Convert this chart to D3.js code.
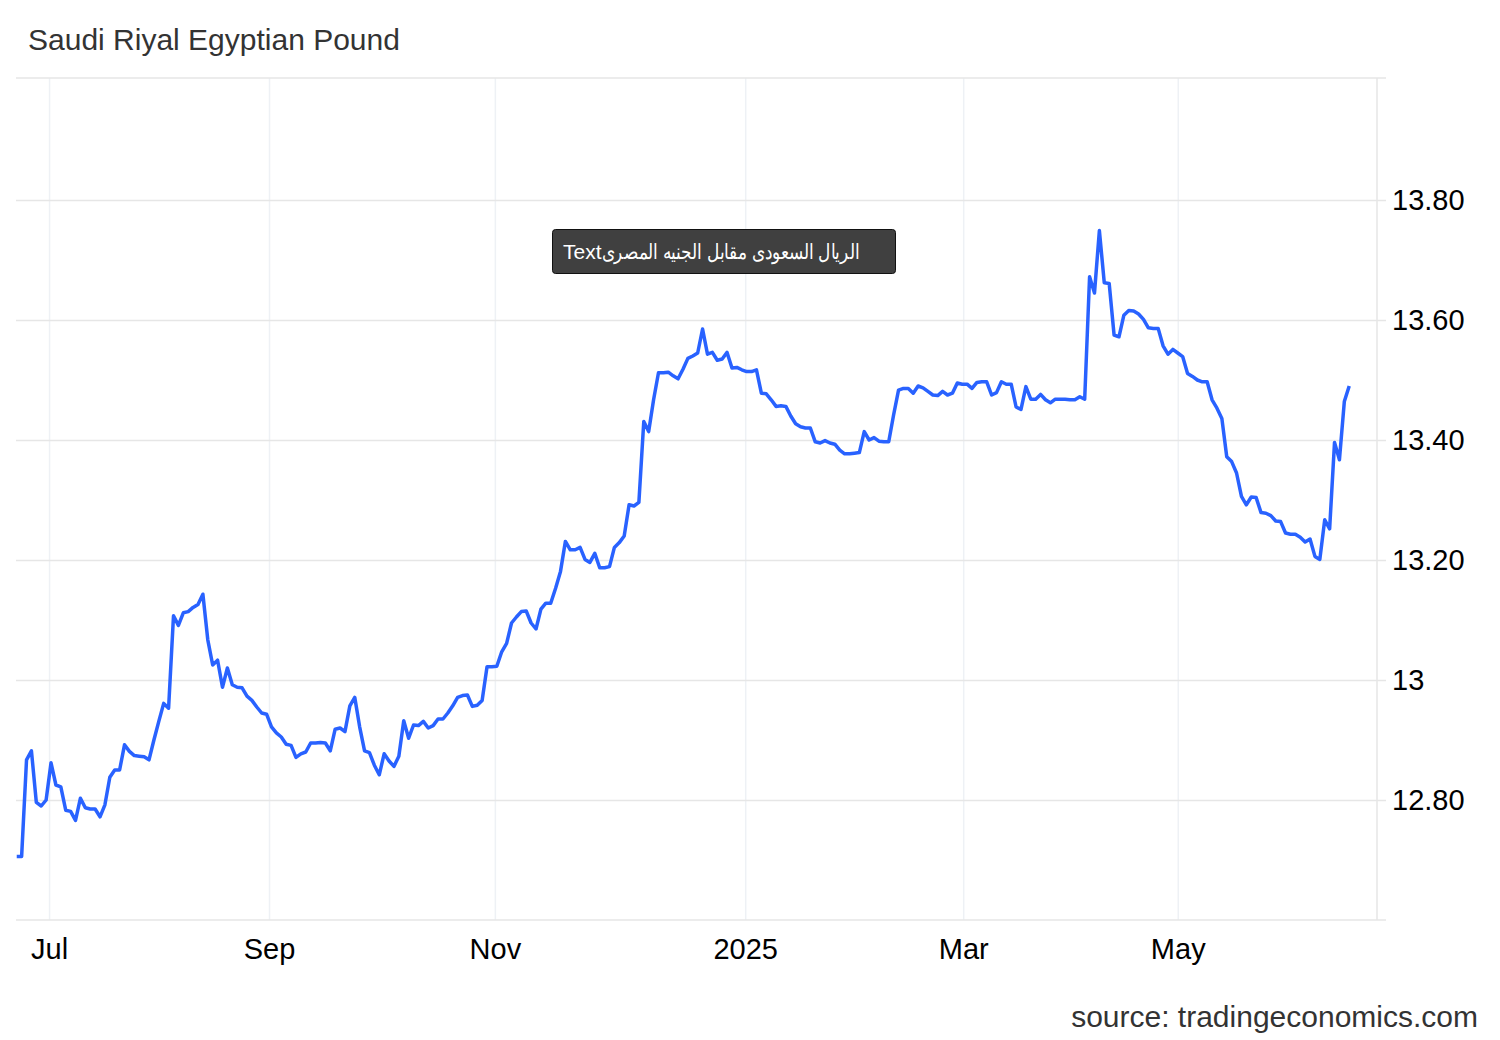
<!DOCTYPE html>
<html>
<head>
<meta charset="utf-8">
<script src="https://cdn.jsdelivr.net/npm/d3@7"></script>
<style>
  body { margin: 0; background: #fff; }
  svg { display: block; font-family: "Liberation Sans", Arial, Helvetica, sans-serif; }
</style>
</head>
<body>
<script>
// daily SAR/EGP closes (one value per trading day)
const values = [
  12.706, 12.706, 12.867, 12.882, 12.796, 12.790, 12.800, 12.862, 12.825, 12.822,
  12.783, 12.781, 12.766, 12.803, 12.787, 12.785, 12.785, 12.772, 12.792, 12.838,
  12.850, 12.850, 12.892, 12.881, 12.874, 12.873, 12.872, 12.867, 12.900, 12.931,
  12.961, 12.953, 13.107, 13.091, 13.112, 13.114, 13.121, 13.126, 13.143, 13.067,
  13.025, 13.033, 12.988, 13.020, 12.992, 12.988, 12.987, 12.973, 12.966, 12.955,
  12.945, 12.943, 12.922, 12.912, 12.905, 12.893, 12.891, 12.871, 12.877, 12.880,
  12.895, 12.895, 12.896, 12.895, 12.882, 12.918, 12.920, 12.914, 12.957, 12.971,
  12.922, 12.882, 12.879, 12.858, 12.842, 12.877, 12.865, 12.856, 12.873, 12.932,
  12.903, 12.925, 12.924, 12.931, 12.920, 12.924, 12.935, 12.935, 12.945, 12.957,
  12.971, 12.974, 12.975, 12.956, 12.958, 12.966, 13.022, 13.022, 13.023, 13.047,
  13.061, 13.095, 13.105, 13.114, 13.115, 13.095, 13.085, 13.118, 13.128, 13.128,
  13.153, 13.181, 13.231, 13.217, 13.217, 13.221, 13.201, 13.196, 13.211, 13.187,
  13.187, 13.189, 13.221, 13.229, 13.240, 13.292, 13.290, 13.296, 13.431, 13.414,
  13.467, 13.512, 13.512, 13.513, 13.507, 13.502, 13.518, 13.536, 13.540, 13.545,
  13.585, 13.543, 13.546, 13.533, 13.535, 13.546, 13.520, 13.521, 13.517, 13.514,
  13.514, 13.517, 13.478, 13.477, 13.467, 13.456, 13.457, 13.456, 13.440, 13.427,
  13.422, 13.420, 13.420, 13.397, 13.395, 13.399, 13.395, 13.393, 13.383, 13.377,
  13.377, 13.378, 13.379, 13.414, 13.400, 13.404, 13.398, 13.397, 13.397, 13.442,
  13.483, 13.486, 13.486, 13.478, 13.490, 13.487, 13.481, 13.475, 13.474, 13.481,
  13.475, 13.478, 13.495, 13.493, 13.493, 13.486, 13.496, 13.497, 13.497, 13.475,
  13.479, 13.497, 13.493, 13.493, 13.455, 13.451, 13.489, 13.468, 13.468, 13.476,
  13.467, 13.462, 13.468, 13.468, 13.468, 13.467, 13.467, 13.472, 13.468, 13.672,
  13.645, 13.749, 13.662, 13.661, 13.575, 13.572, 13.608, 13.616, 13.615, 13.610,
  13.601, 13.587, 13.586, 13.586, 13.557, 13.543, 13.551, 13.545, 13.539, 13.511,
  13.506, 13.500, 13.497, 13.497, 13.467, 13.453, 13.436, 13.372, 13.364, 13.345,
  13.306, 13.292, 13.305, 13.304, 13.279, 13.278, 13.274, 13.265, 13.264, 13.245,
  13.243, 13.243, 13.238, 13.230, 13.235, 13.206, 13.201, 13.267, 13.252, 13.396,
  13.367, 13.464, 13.490
];

// month labels sit at these positions along the trading-day index
const xTickAt = [6.6, 51.5, 97.6, 148.7, 193.2, 237.0];
const xTickLabels = ["Jul", "Sep", "Nov", "2025", "Mar", "May"];

const yTicks = [12.8, 13.0, 13.2, 13.4, 13.6, 13.8];
const yTickLabels = ["12.80", "13", "13.20", "13.40", "13.60", "13.80"];

const title = "Saudi Riyal Egyptian Pound";
const source = "source: tradingeconomics.com";
const tipLatin = "Text";
const tipArabic = "الريال السعودى مقابل الجنيه المصرى";

const W = 1500, H = 1040;
const plotL = 16, plotR = 1377, plotT = 78, plotB = 920;

const svg = d3.select("body").append("svg").attr("width", W).attr("height", H);

const x = d3.scaleLinear().domain([-0.15, 277.67]).range([plotL, plotR]);
const y = d3.scaleLinear().domain([12.6, 14.0]).range([plotB, 80]);

// vertical grid
svg.append("g")
  .attr("transform", `translate(0,${plotB})`)
  .call(d3.axisBottom(x).tickValues(xTickAt).tickSize(-(plotB - plotT)).tickFormat(""))
  .call(g => g.select(".domain").remove())
  .call(g => g.selectAll("line").attr("stroke", "#eef1f5").attr("stroke-width", 1.5));

// horizontal grid (runs a little past the axis as tick marks)
svg.append("g")
  .attr("transform", `translate(${plotL},0)`)
  .call(d3.axisRight(y).tickValues(yTicks).tickSize(1370).tickFormat(""))
  .call(g => g.select(".domain").remove())
  .call(g => g.selectAll("line").attr("stroke", "#e6e6e6").attr("stroke-width", 1.5));

// frame: top, bottom, right
svg.append("line").attr("x1", plotL).attr("x2", 1386).attr("y1", plotT).attr("y2", plotT)
  .attr("stroke", "#e6e6e6").attr("stroke-width", 1.5);
svg.append("line").attr("x1", plotL).attr("x2", 1386).attr("y1", plotB).attr("y2", plotB)
  .attr("stroke", "#e6e6e6").attr("stroke-width", 1.5);
svg.append("line").attr("x1", plotR).attr("x2", plotR).attr("y1", plotT).attr("y2", plotB)
  .attr("stroke", "#e6e6e6").attr("stroke-width", 1.5);

// axis labels
svg.append("g")
  .attr("transform", `translate(0,${plotB})`)
  .call(d3.axisBottom(x).tickValues(xTickAt).tickSize(0).tickPadding(18)
    .tickFormat((d, i) => xTickLabels[i]))
  .call(g => g.select(".domain").remove())
  .call(g => g.selectAll("text").attr("fill", "#000")
    .style("font-size", "29px").style("font-family", "'Liberation Sans', Arial, sans-serif"));

svg.append("g")
  .attr("transform", `translate(${plotR},0)`)
  .call(d3.axisRight(y).tickValues(yTicks).tickSize(0).tickPadding(15)
    .tickFormat((d, i) => yTickLabels[i]))
  .call(g => g.select(".domain").remove())
  .call(g => g.selectAll("text").attr("fill", "#000")
    .style("font-size", "29px").style("font-family", "'Liberation Sans', Arial, sans-serif"));

// the series
const line = d3.line().x((d, i) => x(i)).y(d => y(d));
svg.append("path")
  .datum(values)
  .attr("fill", "none")
  .attr("stroke", "#2962ff")
  .attr("stroke-width", 3.5)
  .attr("stroke-linejoin", "round")
  .attr("d", line);

// title + source
svg.append("text").attr("x", 28).attr("y", 50).text(title)
  .attr("fill", "#333").style("font-size", "30px");
svg.append("text").attr("x", 1478).attr("y", 1027).attr("text-anchor", "end").text(source)
  .attr("fill", "#333").style("font-size", "30px");

// tooltip-like label box
const tip = svg.append("g").attr("transform", "translate(552.5,229.5)");
tip.append("rect").attr("width", 343).attr("height", 44).attr("rx", 3)
  .attr("fill", "#404040").attr("stroke", "#111").attr("stroke-width", 1);
const tipT = tip.append("text").attr("x", 10.5).attr("y", 29.5)
  .attr("fill", "#fff").style("font-size", "21px");
tipT.append("tspan").text(tipLatin);
tipT.append("tspan").text(tipArabic)
  .attr("textLength", 258).attr("lengthAdjust", "spacingAndGlyphs");
</script>
</body>
</html>
